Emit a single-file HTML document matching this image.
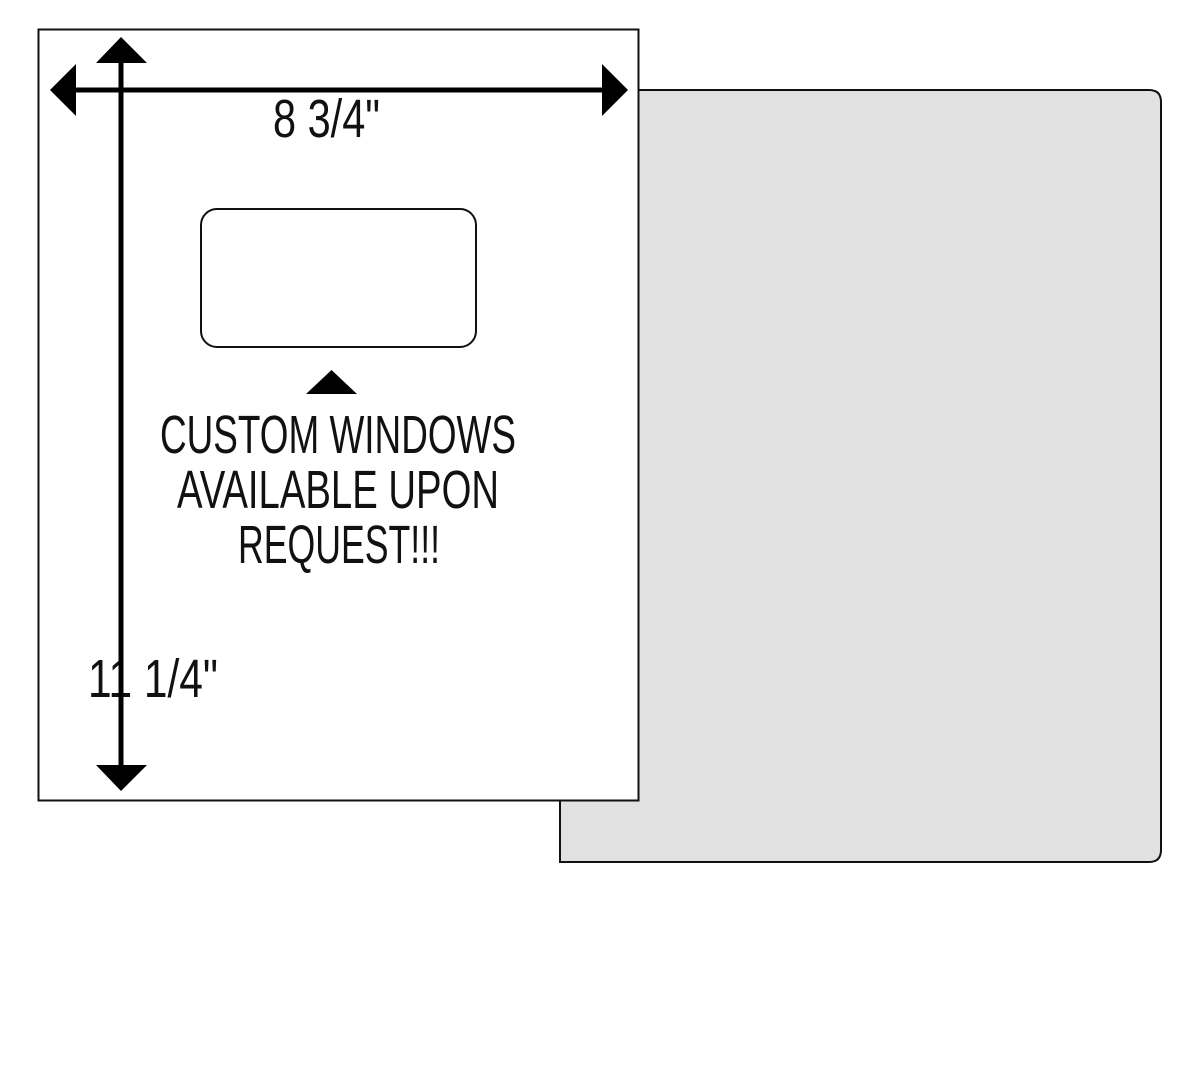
<!DOCTYPE html>
<html><head><meta charset="utf-8"><style>html,body{margin:0;padding:0;background:#fff}svg{display:block}</style></head>
<body>
<svg width="1200" height="1078" viewBox="0 0 1200 1078" xmlns="http://www.w3.org/2000/svg">
<path d="M560,90 H1149 Q1161,90 1161,102 V850 Q1161,862 1149,862 H560 Z" fill="#e0e1e0" stroke="#111" stroke-width="2"/>
<rect x="38.5" y="29.5" width="600" height="771" fill="#fff" stroke="#111" stroke-width="2"/>
<rect x="201" y="209" width="275" height="138" rx="16" fill="#fff" stroke="#111" stroke-width="2"/>
<polygon points="306,394 357,394 331.5,370" fill="#000"/>
<g font-family="'Liberation Sans Narrow','Liberation Sans',sans-serif" font-size="54" fill="#111">
<text x="273" y="137" textLength="107" lengthAdjust="spacingAndGlyphs">8 3/4"</text>
<text x="88" y="697" textLength="130" lengthAdjust="spacingAndGlyphs">11 1/4"</text>
<text x="160" y="453" textLength="356" lengthAdjust="spacingAndGlyphs">CUSTOM WINDOWS</text>
<text x="177" y="508" textLength="322" lengthAdjust="spacingAndGlyphs">AVAILABLE UPON</text>
<text x="238" y="563" textLength="202" lengthAdjust="spacingAndGlyphs">REQUEST!!!</text>
</g>
<line x1="70" y1="90" x2="610" y2="90" stroke="#000" stroke-width="5"/>
<polygon points="50,90 76,64 76,116" fill="#000"/>
<polygon points="628,90 602,64 602,116" fill="#000"/>
<line x1="121" y1="55" x2="121" y2="775" stroke="#000" stroke-width="5"/>
<polygon points="121,37 96,63 147,63" fill="#000"/>
<polygon points="121,791 96,765 147,765" fill="#000"/>
</svg>
</body></html>
